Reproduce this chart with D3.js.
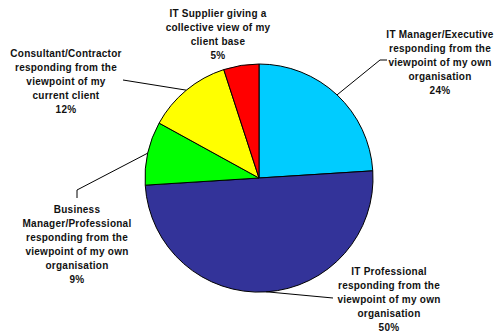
<!DOCTYPE html>
<html>
<head>
<meta charset="utf-8">
<script src="https://cdn.jsdelivr.net/npm/d3@7/dist/d3.min.js"></script>
<style>
  html, body { margin: 0; padding: 0; background: #fff; }
  svg { display: block; }
  text { font-family: "Liberation Sans", Arial, sans-serif; font-weight: bold; font-size: 10px; letter-spacing: 0.25px; fill: #111; }
</style>
</head>
<body>
<svg id="chart" width="496" height="335"></svg>
<script>
// Respondent roles (label lines) and their share of responses, clockwise from 12 o'clock
const categories = [
  ["IT Manager/Executive", "responding from the", "viewpoint of my own", "organisation"],
  ["IT Professional", "responding from the", "viewpoint of my own", "organisation"],
  ["Business", "Manager/Professional", "responding from the", "viewpoint of my own", "organisation"],
  ["Consultant/Contractor", "responding from the", "viewpoint of my", "current client"],
  ["IT Supplier giving a", "collective view of my", "client base"]
];
const values = [24, 50, 9, 12, 5];
const colors = ["#00CCFF", "#333399", "#00FF00", "#FFFF00", "#FF0000"];

// Label placement: centre x, first baseline y, and leader line bend points
const labelLayout = [
  { x: 440, y: 38,  leader: [[380, 60], [387, 60]] },
  { x: 389, y: 275, leader: [[333, 298]] },
  { x: 77,  y: 213, leader: [[77, 190], [77, 198]] },
  { x: 66,  y: 57,  leader: [[123, 80]] },
  { x: 218, y: 17,  leader: null }
];

const cx = 259, cy = 178, radius = 114, lineH = 14;

const svg = d3.select("#chart");
const g = svg.append("g").attr("transform", `translate(${cx},${cy})`);

const pie = d3.pie().sort(null).value(d => d)(values);
const arc = d3.arc().innerRadius(0).outerRadius(radius);
const edge = d3.arc().innerRadius(radius).outerRadius(radius);

g.selectAll("path.slice")
  .data(pie)
  .join("path")
  .attr("class", "slice")
  .attr("d", arc)
  .attr("fill", (d, i) => colors[i])
  .attr("stroke", "#000")
  .attr("stroke-width", 1);

// Leader lines from the slice's outer edge to its label
const line = d3.line();
pie.forEach((d, i) => {
  const L = labelLayout[i];
  if (!L.leader) return;
  const [ex, ey] = edge.centroid(d);
  const pts = [[cx + ex, cy + ey], ...L.leader];
  svg.append("path")
    .attr("d", line(pts))
    .attr("fill", "none")
    .attr("stroke", "#000")
    .attr("stroke-width", 1);
});

// Labels with percentages
const pct = d3.format(".0%");
const total = d3.sum(values);
categories.forEach((lines, i) => {
  const L = labelLayout[i];
  const t = svg.append("text").attr("text-anchor", "middle");
  const all = [...lines, pct(values[i] / total)];
  all.forEach((s, k) => {
    t.append("tspan").attr("x", L.x).attr("y", L.y + k * lineH).text(s);
  });
});
</script>
</body>
</html>
